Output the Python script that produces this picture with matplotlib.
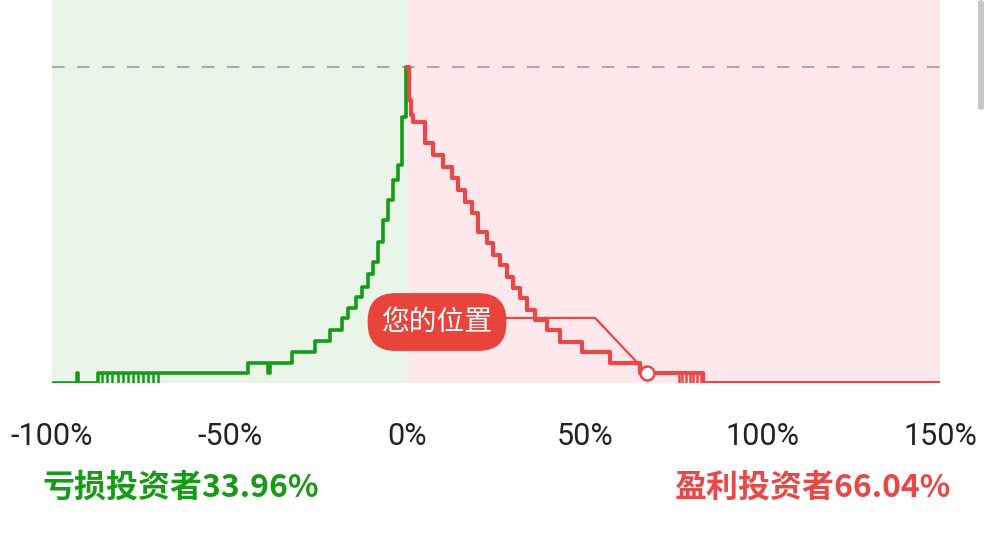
import matplotlib.pyplot as plt
from matplotlib.patches import FancyBboxPatch

plt.rcParams['font.family'] = ['Roboto', 'Noto Sans CJK SC', 'DejaVu Sans']

# loss side: step start (% return) and relative share of investors
loss_x = [-100, -92.96, -92.6, -87.0, -44.8, -41.4, -39.2, -38.6, -32.4, -26.0, -21.7,
          -18.4, -16.7, -14.4, -12.7, -11.0, -9.6, -8.2, -6.8, -5.4, -4.0, -2.6, -1.5, -0.2]
loss_y = [0, 0.032, 0, 0.032, 0.063, 0.063, 0.032, 0.063, 0.098, 0.133, 0.168,
          0.206, 0.237, 0.272, 0.304, 0.345, 0.383, 0.446, 0.516, 0.579, 0.642, 0.690, 0.842, 1.0]
loss_spikes = [-86.0, -84.5, -83.0, -81.5, -80.0, -78.6, -77.2, -75.8, -74.4, -73.0, -71.5, -70.2]

# profit side
gain_x = [0, 0.5, 1.07, 1.6, 5.0, 7.3, 10.1, 12.6, 14.3, 16.3, 18.2, 19.9, 22.5, 24.2,
          26.1, 28.1, 29.8, 31.8, 33.7, 36.0, 39.4, 43.0, 49.2, 57.1, 65.5, 76.0, 83.3, 150]
gain_y = [1.0, 0.896, 0.848, 0.826, 0.759, 0.722, 0.684, 0.649, 0.611, 0.573, 0.538,
          0.478, 0.443, 0.405, 0.373, 0.335, 0.301, 0.269, 0.231, 0.199, 0.168, 0.130,
          0.098, 0.063, 0.032, 0.032, 0, 0]
gain_spikes = [76.5, 77.5, 78.6, 79.6, 80.6, 81.6, 82.6]

my_pos = 67.5
my_level = 0.032

xticks = [-100, -50, 0, 50, 100, 150]
loss_share = 33.96
gain_share = 66.04

green = '#159b15'
red = '#e84848'

fig = plt.figure(figsize=(9.92, 5.45), dpi=100)
ax = fig.add_axes([52 / 992, (545 - 383) / 545, 888 / 992, 383 / 545])
ax.set_xlim(-100, 150)
ax.set_ylim(0, 383 / 316)

ax.axvspan(-100, 0, color='#eaf5ea', zorder=0, lw=0)
ax.axvspan(0, 150, color='#ffe8ec', zorder=0, lw=0)
ax.axhline(1.0, color='#aaaaaa', lw=1.5, dashes=(6, 6), zorder=1)

ax.step(loss_x + [0], loss_y + [1.0], where='post', color=green, lw=2.6, zorder=3)
ax.vlines(loss_spikes, 0, 0.032, color=green, lw=1.8, zorder=3)
ax.step(gain_x, gain_y, where='post', color=red, lw=3.0, zorder=3)
ax.vlines(gain_spikes, 0, 0.032, color=red, lw=1.8, zorder=3)

# 您的位置 callout
ax.plot([27.5, 52.9, my_pos], [0.206, 0.206, my_level], color=red, lw=1.6, zorder=4)
ax.plot([my_pos], [my_level], 'o', ms=10, mfc='white', mec=red, mew=1.8, zorder=5)
ax.text(8.4, 0.193, '您的位置', color='white', fontsize=20, ha='center', va='center',
        family=['Noto Sans CJK SC'], zorder=6,
        bbox=dict(boxstyle='round,pad=0.5,rounding_size=1.0', fc='#e8443c', ec='none'))

ax.set_xticks(xticks)
ax.set_xticklabels([f'{t}%' for t in xticks], fontsize=22, color='#222222')
ax.tick_params(axis='x', length=0, pad=28)
ax.set_yticks([])
for s in ax.spines.values():
    s.set_visible(False)

fig.text(42 / 992, 0.106, f'亏损投资者{loss_share:.2f}%', color=green, fontsize=23,
         fontweight='bold', ha='left', va='center', family=['Noto Sans CJK SC'])
fig.text(950 / 992, 0.106, f'盈利投资者{gain_share:.2f}%', color=red, fontsize=23,
         fontweight='bold', ha='right', va='center', family=['Noto Sans CJK SC'])

# phone scrollbar
fig.patches.append(FancyBboxPatch((978 / 992, 435 / 545), 6 / 992, 110 / 545,
                                  boxstyle='round,pad=0,rounding_size=0.004',
                                  transform=fig.transFigure, fc='#c8c8c8', ec='none'))

fig.savefig('out.png', dpi=100)
